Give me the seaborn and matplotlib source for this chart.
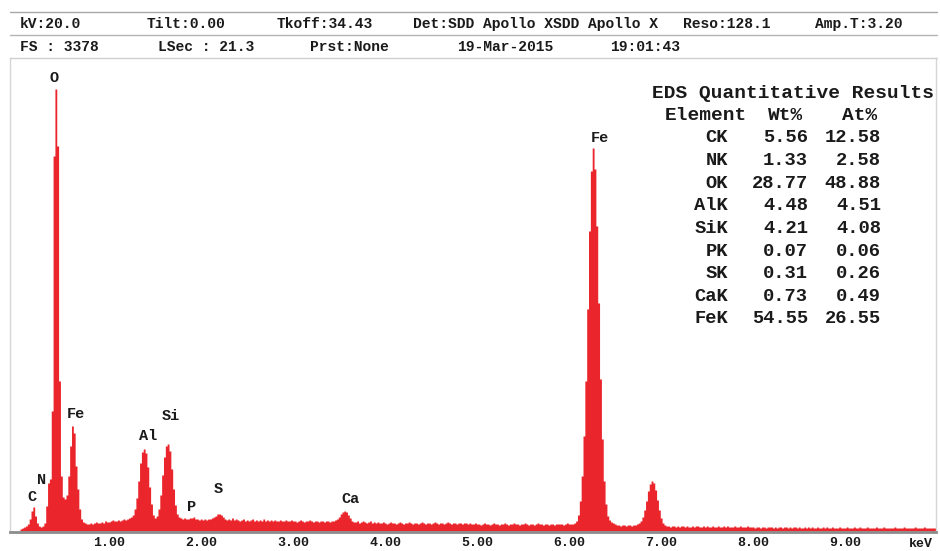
import numpy as np
import pandas as pd
import matplotlib
matplotlib.use("Agg")
import matplotlib.pyplot as plt
import seaborn as sns
from matplotlib.lines import Line2D
from matplotlib.transforms import ScaledTranslation

# ---------------- data ----------------
channel_start_keV = 0.10
channel_width_keV = 0.02
# spectrum counts per 0.02 keV channel (arbitrary units), 0.10 .. 10.08 keV
counts = [
    0, 0, 2, 3, 4, 5, 7, 12, 20, 24, 15, 8, 5, 4, 5, 8, 25, 48, 52, 120, 375, 442, 385, 150, 55,
    34, 32, 36, 55, 85, 105, 98, 65, 42, 22, 12, 9, 8, 7, 7, 8, 7, 8, 9, 8, 8, 9, 8, 10, 9,
    9, 10, 11, 10, 10, 11, 10, 11, 12, 11, 12, 13, 14, 16, 22, 33, 50, 68, 79, 82, 78, 64, 44, 27, 16,
    13, 15, 22, 36, 56, 74, 85, 87, 80, 62, 42, 26, 17, 14, 13, 12, 13, 12, 12, 13, 13, 14, 12, 12, 11,
    12, 11, 12, 11, 12, 12, 13, 14, 15, 17, 17, 16, 14, 12, 11, 12, 11, 13, 11, 12, 11, 10, 11, 12, 10,
    11, 10, 11, 12, 10, 11, 10, 11, 10, 12, 10, 11, 10, 11, 10, 11, 10, 10, 11, 10, 10, 11, 10, 10, 11,
    10, 10, 9, 10, 11, 10, 9, 10, 10, 11, 10, 9, 10, 10, 9, 10, 10, 9, 10, 10, 9, 10, 10, 11, 12,
    14, 17, 19, 20, 19, 16, 13, 10, 9, 9, 10, 8, 9, 10, 9, 8, 9, 10, 8, 9, 8, 9, 8, 8, 9,
    8, 7, 8, 9, 8, 8, 7, 8, 9, 8, 7, 8, 8, 9, 8, 7, 8, 8, 7, 8, 9, 8, 7, 8, 8,
    7, 8, 9, 8, 7, 8, 8, 7, 8, 9, 8, 7, 8, 8, 7, 8, 8, 7, 8, 8, 7, 8, 7, 7, 8,
    7, 7, 6, 7, 8, 7, 7, 6, 7, 8, 7, 7, 6, 7, 7, 8, 7, 6, 7, 7, 8, 7, 7, 6, 7,
    7, 8, 7, 6, 7, 7, 6, 7, 8, 7, 7, 6, 7, 7, 6, 7, 7, 6, 7, 7, 7, 7, 6, 7, 8,
    7, 7, 7, 8, 10, 16, 30, 55, 95, 150, 222, 300, 360, 383, 362, 305, 228, 152, 92, 50, 27, 15, 11, 9, 8,
    7, 6, 6, 5, 6, 6, 5, 6, 6, 5, 6, 6, 7, 8, 10, 14, 21, 30, 40, 47, 50, 48, 41, 31, 21,
    13, 8, 6, 5, 5, 4, 5, 5, 4, 5, 4, 5, 5, 4, 5, 4, 4, 5, 4, 5, 5, 4, 4, 5, 4,
    5, 4, 4, 5, 4, 4, 5, 4, 4, 5, 4, 5, 4, 4, 4, 5, 4, 4, 5, 4, 4, 4, 5, 4, 4,
    4, 3, 4, 4, 3, 4, 4, 3, 4, 4, 4, 3, 4, 3, 4, 4, 3, 4, 4, 3, 4, 3, 4, 4, 3,
    4, 3, 3, 4, 3, 4, 3, 4, 3, 3, 4, 3, 3, 4, 3, 4, 3, 3, 4, 3, 3, 3, 4, 3, 3,
    3, 4, 3, 3, 3, 4, 3, 3, 4, 3, 3, 3, 4, 3, 3, 3, 3, 4, 3, 3, 3, 4, 3, 3, 3,
    3, 3, 4, 3, 3, 3, 3, 4, 3, 3, 3, 3, 3, 4, 3, 3, 3, 3, 4, 3, 3, 3, 3, 3, 3,
]

peak_labels = ["C", "N", "O", "Fe", "Al", "Si", "P", "S", "Ca", "Fe"]
peak_label_keV = [0.26, 0.37, 0.50, 0.74, 1.52, 1.77, 1.99, 2.29, 3.72, 6.43]
peak_label_height = [34, 51, 453, 117, 95, 115, 24, 42, 32, 393]

tick_values = [1, 2, 3, 4, 5, 6, 7, 8, 9]
tick_labels = ["1.00", "2.00", "3.00", "4.00", "5.00", "6.00", "7.00", "8.00", "9.00"]

header_row1 = ["kV:20.0", "Tilt:0.00", "Tkoff:34.43", "Det:SDD Apollo XSDD Apollo X",
               "Reso:128.1", "Amp.T:3.20"]
header_row2 = ["FS : 3378", "LSec : 21.3", "Prst:None", "19-Mar-2015", "19:01:43"]

table_title = "EDS Quantitative Results"
table_columns = ["Element", "Wt%", "At%"]
elements = ["CK", "NK", "OK", "AlK", "SiK", "PK", "SK", "CaK", "FeK"]
wt_pct = ["5.56", "1.33", "28.77", "4.48", "4.21", "0.07", "0.31", "0.73", "54.55"]
at_pct = ["12.58", "2.58", "48.88", "4.51", "4.08", "0.06", "0.26", "0.49", "26.55"]

# ---------------- style ----------------
RED = "#EA252B"
sns.set_style("white")
plt.rcParams["font.family"] = ["Liberation Mono", "DejaVu Sans Mono"]
plt.rcParams["font.weight"] = "bold"
TXT = "#1a1a1a"

W, H = 940, 551
fig = plt.figure(figsize=(W / 100, H / 100), dpi=100)


def fx(px):
    return px / W


def fy(py):
    return 1 - py / H


ax = fig.add_axes([fx(10), fy(532), fx(936) - fx(10), fy(58) - fy(532)])

energies = channel_start_keV + channel_width_keV * np.arange(len(counts))
df = pd.DataFrame({"keV": energies, "counts": counts})
sns.histplot(data=df, x="keV", weights="counts", binwidth=channel_width_keV,
             binrange=(channel_start_keV - channel_width_keV / 2,
                       channel_start_keV + channel_width_keV * (len(counts) - 0.5)),
             element="step", fill=True, color=RED, alpha=1, linewidth=0, ax=ax)

ax.set_xlim(0.0217, 10.087)
ax.set_ylim(-1, 473)
ax.set_xlabel("")
ax.set_ylabel("")
ax.set_yticks([])
ax.set_xticks(tick_values)
ax.set_xticklabels(tick_labels)
ax.tick_params(axis="x", direction="out", length=3, width=1, color="#606060",
               pad=1, labelsize=9.5, labelcolor=TXT)
for lbl in ax.get_xticklabels():
    lbl.set_fontweight("bold")
    lbl.set_transform(lbl.get_transform() + ScaledTranslation(0.09, 0.01, fig.dpi_scale_trans))

ax.spines["top"].set_visible(False)
for side in ("left", "right"):
    ax.spines[side].set_color("#D6D6D6")
    ax.spines[side].set_linewidth(1)
ax.spines["bottom"].set_color("#8C8C8C")
ax.spines["bottom"].set_linewidth(2)

for name, xk, yh in zip(peak_labels, peak_label_keV, peak_label_height):
    ax.text(xk, yh, name, ha="center", va="center", fontsize=11,
            fontweight="bold", color=TXT)

fig.text(fx(921), fy(544), "keV", ha="center", va="center", fontsize=9.5,
         fontweight="bold", color=TXT)

# header lines and text
for ypx, col in ((12, "#A8A8A8"), (35, "#B4B4B4"), (58, "#CFCFCF")):
    fig.add_artist(Line2D([fx(10), fx(937)], [fy(ypx), fy(ypx)], color=col, lw=1))

row1_x = [20, 147, 277, 413, 683, 815]
row2_x = [20, 158, 310, 457, 610]
for s, xp in zip(header_row1, row1_x):
    fig.text(fx(xp), fy(24), s, ha="left", va="center", fontsize=10.5,
             fontweight="bold", color=TXT)
for s, xp in zip(header_row2, row2_x):
    fig.text(fx(xp), fy(47), s, ha="left", va="center", fontsize=10.5,
             fontweight="bold", color=TXT)

# quantitative table
fig.text(fx(652), fy(93), table_title, ha="left", va="center", fontsize=14,
         fontweight="bold", color=TXT)
fig.text(fx(665), fy(115), table_columns[0], ha="left", va="center", fontsize=14,
         fontweight="bold", color=TXT)
fig.text(fx(768), fy(115), table_columns[1], ha="left", va="center", fontsize=14,
         fontweight="bold", color=TXT)
fig.text(fx(842), fy(115), table_columns[2], ha="left", va="center", fontsize=14,
         fontweight="bold", color=TXT)
for i, (el, w, a) in enumerate(zip(elements, wt_pct, at_pct)):
    ypx = 138 + 22.6 * i
    fig.text(fx(728), fy(ypx), el, ha="right", va="center", fontsize=13.5,
             fontweight="bold", color=TXT)
    fig.text(fx(808), fy(ypx), w, ha="right", va="center", fontsize=13.5,
             fontweight="bold", color=TXT)
    fig.text(fx(881), fy(ypx), a, ha="right", va="center", fontsize=13.5,
             fontweight="bold", color=TXT)

fig.savefig("out.png", dpi=100)
